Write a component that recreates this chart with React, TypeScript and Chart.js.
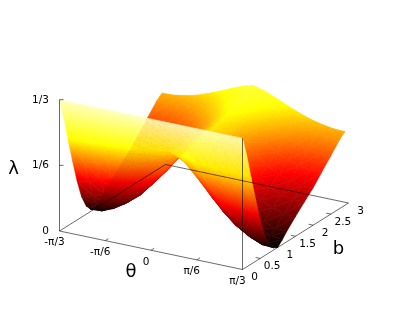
import React, { useEffect, useRef } from "react";
import { Chart, registerables } from "chart.js";
Chart.register(...registerables);

// |theta| as a fraction of pi/3 for each column of lambdaHalf
const thetaFractions = [0, 0.125, 0.25, 0.375, 0.5, 0.625, 0.75, 0.875, 1];
const bValues = [0, 0.125, 0.25, 0.375, 0.5, 0.625, 0.75, 0.875, 1, 1.125, 1.25, 1.5, 1.75, 2, 2.25, 2.5, 2.75, 2.9];
// lambda values; surface is symmetric in theta
const lambdaHalf = [
  [0.333, 0.333, 0.333, 0.333, 0.333, 0.333, 0.333, 0.333, 0.333],
  [0.300, 0.299, 0.297, 0.294, 0.291, 0.288, 0.285, 0.282, 0.280],
  [0.270, 0.266, 0.260, 0.250, 0.240, 0.230, 0.222, 0.217, 0.215],
  [0.245, 0.238, 0.226, 0.208, 0.190, 0.175, 0.165, 0.158, 0.155],
  [0.225, 0.215, 0.200, 0.175, 0.150, 0.130, 0.114, 0.103, 0.098],
  [0.212, 0.195, 0.173, 0.144, 0.112, 0.088, 0.072, 0.059, 0.052],
  [0.201, 0.178, 0.144, 0.111, 0.080, 0.054, 0.036, 0.026, 0.022],
  [0.198, 0.166, 0.128, 0.094, 0.063, 0.038, 0.020, 0.008, 0.006],
  [0.198, 0.166, 0.126, 0.092, 0.060, 0.037, 0.019, 0.005, 0.000],
  [0.199, 0.168, 0.129, 0.097, 0.066, 0.045, 0.028, 0.016, 0.012],
  [0.201, 0.172, 0.135, 0.104, 0.076, 0.055, 0.040, 0.028, 0.026],
  [0.207, 0.181, 0.147, 0.119, 0.092, 0.073, 0.060, 0.051, 0.050],
  [0.212, 0.190, 0.161, 0.135, 0.110, 0.092, 0.080, 0.073, 0.073],
  [0.218, 0.198, 0.172, 0.148, 0.126, 0.110, 0.100, 0.094, 0.095],
  [0.226, 0.209, 0.186, 0.166, 0.147, 0.133, 0.125, 0.120, 0.122],
  [0.238, 0.225, 0.206, 0.189, 0.173, 0.160, 0.152, 0.147, 0.148],
  [0.247, 0.237, 0.223, 0.208, 0.195, 0.185, 0.179, 0.175, 0.175],
  [0.255, 0.247, 0.235, 0.222, 0.210, 0.200, 0.193, 0.188, 0.187],
];
const thetaTicks = [-1, -0.5, 0, 0.5, 1];
const thetaTickLabels = ["-π/3", "-π/6", "0", "π/6", "π/3"];
const bTicks = [0, 0.5, 1, 1.5, 2, 2.5, 3];
const bTickLabels = ["0", "0.5", "1", "1.5", "2", "2.5", "3"];
const lambdaTicks = [0, 1 / 6, 1 / 3];
const lambdaTickLabels = ["0", "1/6", "1/3"];

const AXIS = "rgba(0,0,0,0.58)";
const FONT = '"DejaVu Sans"';
const SHOW_THROUGH = 0.1;

// orthographic view of the box (theta fraction in [-1,1], b in [0,3], lambda in [0,1/3])
function project(th: number, b: number, l: number) {
  const t = (th + 1) / 2;
  return {
    x: 59.5 + 183 * t + (106 * b) / 3,
    y: 231 + 38.5 * t - (66.5 * b) / 3 - 394 * l,
  };
}
function awayDepth(th: number, b: number, l: number) {
  const t = (th + 1) / 2;
  return -98 * t + (170 * b) / 3 - 153 * l;
}

function line(a: any, b: any, color = AXIS, width = 1) {
  return {
    data: [a, b],
    showLine: true,
    borderColor: color,
    borderWidth: width,
    pointRadius: 0,
    fill: false,
    tension: 0,
    clip: false,
  };
}

function App() {
  const ref = useRef<HTMLCanvasElement | null>(null);
  useEffect(() => {
    document.body.style.margin = "0";
    const canvas = ref.current!;
    const ctx = canvas.getContext("2d")!;

    const thetaCols = [
      ...thetaFractions.slice(1).reverse().map((f) => -f),
      ...thetaFractions,
    ];
    const rows = lambdaHalf.map((r) => [...r.slice(1).reverse(), ...r]);

    const tris: any[] = [];
    const vertex = (j: number, i: number) => {
      const th = thetaCols[i];
      const b = bValues[j];
      const l = rows[j][i];
      const p = project(th, b, l);
      return { th, b, l, x: p.x, y: p.y };
    };
    for (let j = 0; j < bValues.length - 1; j++) {
      for (let i = 0; i < thetaCols.length - 1; i++) {
        const a = vertex(j, i);
        const b = vertex(j, i + 1);
        const c = vertex(j + 1, i + 1);
        const d = vertex(j + 1, i);
        tris.push([a, b, c], [a, c, d]);
      }
    }
    const depthOf = (t: any[]) =>
      awayDepth(
        (t[0].th + t[1].th + t[2].th) / 3,
        (t[0].b + t[1].b + t[2].b) / 3,
        (t[0].l + t[1].l + t[2].l) / 3
      );
    tris.sort((p, q) => depthOf(p) - depthOf(q)); // nearest first

    const shade = (t: any[], alpha: number) => {
      const [p, q, r] = t;
      const ux = q.x - p.x, uy = q.y - p.y, uz = q.l - p.l;
      const vx = r.x - p.x, vy = r.y - p.y, vz = r.l - p.l;
      const det = ux * vy - uy * vx;
      let gx = 0, gy = 0;
      if (Math.abs(det) > 1e-6) {
        gx = (uz * vy - vz * uy) / det;
        gy = (ux * vz - vx * uz) / det;
      }
      const n = gx * gx + gy * gy;
      const top = 1 / 3;
      let grad;
      if (n < 1e-12) {
        const m = (p.l + q.l + r.l) / 3;
        grad = ctx.createLinearGradient(p.x, p.y + 300 * (m / top), p.x, p.y - 300 * (1 - m / top));
      } else {
        const x0 = p.x + ((0 - p.l) * gx) / n;
        const y0 = p.y + ((0 - p.l) * gy) / n;
        const x1 = p.x + ((top - p.l) * gx) / n;
        const y1 = p.y + ((top - p.l) * gy) / n;
        grad = ctx.createLinearGradient(x0, y0, x1, y1);
      }
      grad.addColorStop(0, `rgba(0,0,0,${alpha})`);
      grad.addColorStop(1 / 3, `rgba(255,0,0,${alpha})`);
      grad.addColorStop(2 / 3, `rgba(255,255,0,${alpha})`);
      grad.addColorStop(1, `rgba(255,255,190,${alpha})`);
      return grad;
    };

    const toDataset = (t: any[], alpha: number) => {
      const g = shade(t, alpha);
      return {
        data: [...t.map((v: any) => ({ x: v.x, y: v.y })), { x: t[0].x, y: t[0].y }],
        showLine: true,
        fill: "shape",
        backgroundColor: g,
        borderColor: g,
        borderWidth: alpha < 1 ? 0 : 0.6,
        pointRadius: 0,
        tension: 0,
        clip: false,
      };
    };

    const surface = tris.map((t) => toDataset(t, 1));
    // the part of the sheet behind the front flap shows faintly through it
    const showThrough = tris
      .filter((t) => (t[0].b + t[1].b + t[2].b) / 3 >= 1)
      .map((t) => toDataset(t, SHOW_THROUGH));

    const axes: any[] = [];
    const A = project(-1, 0, 0), B = project(1, 0, 0), C = project(1, 3, 0), D = project(-1, 3, 0);
    axes.push(line(A, B), line(B, C), line(C, D), line(D, A));
    axes.push(line(A, project(-1, 0, 1 / 3)), line(B, project(1, 0, 1 / 3)));
    lambdaTicks.slice(1).forEach((l) => {
      const p = project(-1, 0, l);
      axes.push(line(p, { x: p.x + 4, y: p.y }));
    });
    thetaTicks.slice(1, -1).forEach((th) => {
      axes.push(line(project(th, 0, 0), project(th, 0.09, 0)));
    });
    bTicks.slice(1, -1).forEach((b) => {
      axes.push(line(project(1, b, 0), project(0.95, b, 0)));
    });

    const labels = {
      id: "boxLabels",
      afterDatasetsDraw(chart: any) {
        const c = chart.ctx;
        const sx = chart.scales.x, sy = chart.scales.y;
        const put = (text: string, p: any, dx: number, dy: number, size: number, align: CanvasTextAlign) => {
          c.font = `${size}px ${FONT}`;
          c.fillStyle = "#000000";
          c.textAlign = align;
          c.textBaseline = "middle";
          c.fillText(text, sx.getPixelForValue(p.x) + dx, sy.getPixelForValue(p.y) + dy);
        };
        c.save();
        thetaTicks.forEach((th, i) => put(thetaTickLabels[i], project(th, 0, 0), -5, 11.7, 10.5, "center"));
        bTicks.forEach((b, i) => put(bTickLabels[i], project(1, b, 0), 12, 7.8, 10.5, "center"));
        lambdaTicks.forEach((l, i) => put(lambdaTickLabels[i], project(-1, 0, l), -10.5, 0.3, 10.5, "right"));
        put("λ", project(-1, 0, 1 / 6), -46, 4, 18, "center");
        put("θ", project(0, 0, 0), -20, 22, 18, "center");
        put("b", project(1, 1.5, 0), 43, 13, 18, "center");
        c.restore();
      },
    };

    const chart = new Chart(canvas, {
      type: "scatter",
      data: { datasets: [...axes, ...showThrough, ...surface] },
      options: {
        responsive: false,
        animation: false,
        events: [],
        layout: { padding: 0 },
        plugins: { legend: { display: false }, tooltip: { enabled: false }, title: { display: false } },
        scales: {
          x: { type: "linear", min: 0, max: 407, display: false },
          y: { type: "linear", min: 0, max: 314, reverse: true, display: false },
        },
      },
      plugins: [labels],
    } as any);
    return () => chart.destroy();
  }, []);
  return (
    <canvas
      ref={ref}
      width={407}
      height={314}
      style={{ display: "block", width: 407, height: 314, background: "#ffffff" }}
    />
  );
}

export default App;
